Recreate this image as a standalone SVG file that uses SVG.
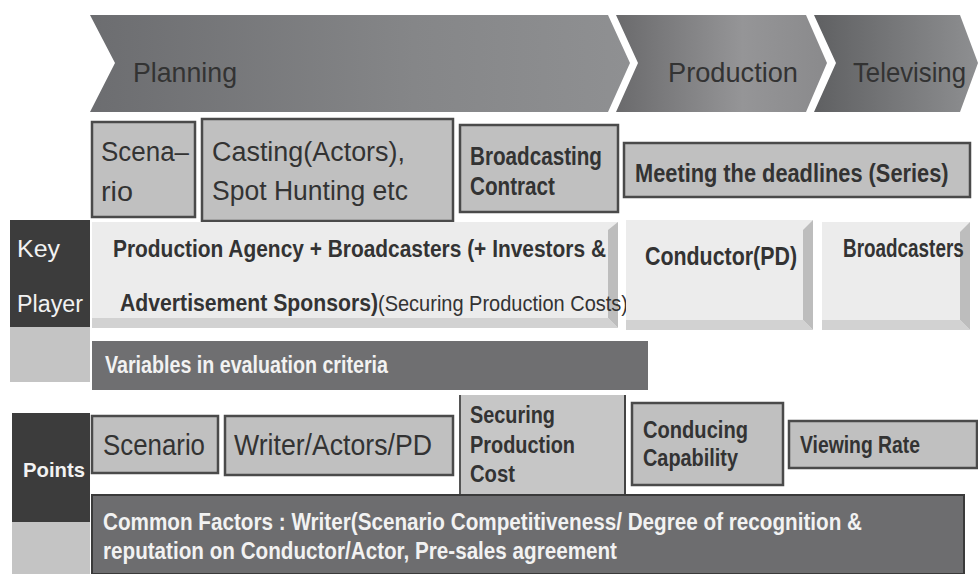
<svg xmlns="http://www.w3.org/2000/svg" width="978" height="574" viewBox="0 0 978 574">
<style>
text{font-family:"Liberation Sans",Arial,sans-serif;fill:#333;}
.b{font-weight:bold;}
.w{fill:#f2f2f2;}
.box{fill:#c0c0c0;stroke:#4a4a4a;stroke-width:2.5;}
.bev{fill:#ececec;}
.bevR{fill:#bdbdbd;}
.bevB{fill:#d2d2d2;}
.dark{fill:#3c3c3c;}
.lg{fill:#c4c4c4;}
.mid{fill:#6f6f71;}
</style>
<defs>
<linearGradient id="g1" x1="0" y1="0" x2="1" y2="0">
<stop offset="0" stop-color="#6c6d70"/><stop offset="0.6" stop-color="#858688"/><stop offset="1" stop-color="#8f9092"/>
</linearGradient>
<linearGradient id="g2" x1="0" y1="0" x2="1" y2="0">
<stop offset="0" stop-color="#6a6a6c"/><stop offset="0.6" stop-color="#959597"/><stop offset="1" stop-color="#8a8a8c"/>
</linearGradient>
<linearGradient id="g3" x1="0" y1="0" x2="1" y2="0">
<stop offset="0" stop-color="#5f6062"/><stop offset="1" stop-color="#8e8f91"/>
</linearGradient>
</defs>

<g id="planning">
<polygon points="90,15 608,15 630,63 608,112 90,112 115,63" fill="url(#g1)"/>
<text x="133" y="82" font-size="28" textLength="104" lengthAdjust="spacingAndGlyphs">Planning</text>
</g>
<g id="production">
<polygon points="616,15 806,15 827,63 806,112 616,112 638,63" fill="url(#g2)"/>
<text x="668" y="82" font-size="28" textLength="130" lengthAdjust="spacingAndGlyphs">Production</text>
</g>
<g id="televising">
<polygon points="814,15 960,15 978,63 960,112 814,112 836,63" fill="url(#g3)"/>
<text x="853" y="82" font-size="28" textLength="113" lengthAdjust="spacingAndGlyphs">Televising</text>
</g>

<g id="scenario-top">
<rect class="box" x="92" y="122" width="103" height="95"/>
<text x="101" y="161" font-size="27" textLength="88" lengthAdjust="spacingAndGlyphs">Scena–</text>
<text x="101" y="201" font-size="27" textLength="32" lengthAdjust="spacingAndGlyphs">rio</text>
</g>
<g id="casting">
<rect class="box" x="202" y="119" width="251" height="102"/>
<text x="212" y="161" font-size="27" textLength="193" lengthAdjust="spacingAndGlyphs">Casting(Actors),</text>
<text x="212" y="200" font-size="27" textLength="196" lengthAdjust="spacingAndGlyphs">Spot Hunting etc</text>
</g>
<g id="broadcasting-contract">
<rect class="box" x="460" y="125" width="158" height="87"/>
<text class="b" x="470" y="165" font-size="25" textLength="132" lengthAdjust="spacingAndGlyphs">Broadcasting</text>
<text class="b" x="470" y="195" font-size="25" textLength="85" lengthAdjust="spacingAndGlyphs">Contract</text>
</g>
<g id="deadlines">
<rect class="box" x="624" y="143" width="346" height="54"/>
<text class="b" transform="matrix(0.872 0 0 1 635 182)" font-size="25">Meeting the deadlines (Series)</text>
</g>

<g id="key-player">
<rect class="dark" x="10" y="220" width="80" height="107"/>
<rect class="lg" x="10" y="327" width="80" height="55"/>
<text class="w" x="17" y="257" font-size="23" textLength="43" lengthAdjust="spacingAndGlyphs">Key</text>
<text class="w" x="17" y="312" font-size="23" textLength="66" lengthAdjust="spacingAndGlyphs">Player</text>
</g>
<g id="agency">
<rect class="bev" x="92" y="222" width="526" height="106"/>
<polygon class="bevR" points="608,230 618,222 618,328 608,318"/>
<polygon class="bevB" points="92,318 608,318 618,328 92,328"/>
<text class="b" x="113" y="257" font-size="23" textLength="493" lengthAdjust="spacingAndGlyphs">Production Agency + Broadcasters (+ Investors &amp;</text>
<text class="b" x="120" y="311" font-size="23" textLength="258" lengthAdjust="spacingAndGlyphs">Advertisement Sponsors)</text>
<text x="378" y="311" font-size="22" textLength="250" lengthAdjust="spacingAndGlyphs">(Securing Production Costs)</text>
</g>
<g id="conductor">
<rect class="bev" x="626" y="220" width="187" height="110"/>
<polygon class="bevR" points="803,230 813,220 813,330 803,320"/>
<polygon class="bevB" points="626,320 803,320 813,330 626,330"/>
<text class="b" x="645" y="265" font-size="25" textLength="152" lengthAdjust="spacingAndGlyphs">Conductor(PD)</text>
</g>
<g id="broadcasters">
<rect class="bev" x="822" y="222" width="148" height="108" fill="#f3f3f3"/>
<polygon class="bevR" points="960,232 970,222 970,330 960,320"/>
<polygon class="bevB" points="822,320 960,320 970,330 822,330"/>
<text class="b" transform="matrix(0.756 0 0 1 843 257)" font-size="25">Broadcasters</text>
</g>

<g id="variables">
<rect class="mid" x="92" y="341" width="556" height="49"/>
<text class="w b" x="105" y="373" font-size="24" textLength="283" lengthAdjust="spacingAndGlyphs">Variables in evaluation criteria</text>
</g>

<g id="points">
<rect class="dark" x="12" y="413" width="78" height="109"/>
<rect class="lg" x="12" y="522" width="78" height="52"/>
<text class="w b" x="23" y="477" font-size="21" textLength="62" lengthAdjust="spacingAndGlyphs">Points</text>
</g>
<g id="scenario-pt">
<rect class="box" x="92" y="416" width="126" height="57"/>
<text x="103" y="455" font-size="29" textLength="102" lengthAdjust="spacingAndGlyphs">Scenario</text>
</g>
<g id="writer">
<rect class="box" x="225" y="416" width="228" height="59"/>
<text x="234" y="455" font-size="29" textLength="198" lengthAdjust="spacingAndGlyphs">Writer/Actors/PD</text>
</g>
<g id="securing">
<rect x="460" y="395" width="165" height="100" fill="#c6c6c6"/>
<line x1="460" y1="395" x2="460" y2="495" stroke="#555" stroke-width="2"/>
<line x1="625" y1="395" x2="625" y2="495" stroke="#444" stroke-width="2"/>
<text class="b" x="470" y="423" font-size="23" textLength="85" lengthAdjust="spacingAndGlyphs">Securing</text>
<text class="b" x="470" y="453" font-size="23" textLength="105" lengthAdjust="spacingAndGlyphs">Production</text>
<text class="b" x="470" y="482" font-size="23" textLength="45" lengthAdjust="spacingAndGlyphs">Cost</text>
</g>
<g id="conducing">
<rect class="box" x="632" y="403" width="151" height="82"/>
<text class="b" x="643" y="438" font-size="23" textLength="105" lengthAdjust="spacingAndGlyphs">Conducing</text>
<text class="b" x="643" y="466" font-size="23" textLength="95" lengthAdjust="spacingAndGlyphs">Capability</text>
</g>
<g id="viewing">
<rect class="box" x="789" y="421" width="188" height="47"/>
<text class="b" x="800" y="453" font-size="23" textLength="120" lengthAdjust="spacingAndGlyphs">Viewing Rate</text>
</g>
<g id="common">
<rect x="92" y="495" width="872" height="79" fill="#6d6d6f" stroke="#3a3a3a" stroke-width="2"/>
<text class="w b" x="103" y="530" font-size="23" textLength="759" lengthAdjust="spacingAndGlyphs">Common Factors : Writer(Scenario Competitiveness/ Degree of recognition &amp;</text>
<text class="w b" x="103" y="559" font-size="23" textLength="514" lengthAdjust="spacingAndGlyphs">reputation on Conductor/Actor, Pre-sales agreement</text>
</g>
</svg>
